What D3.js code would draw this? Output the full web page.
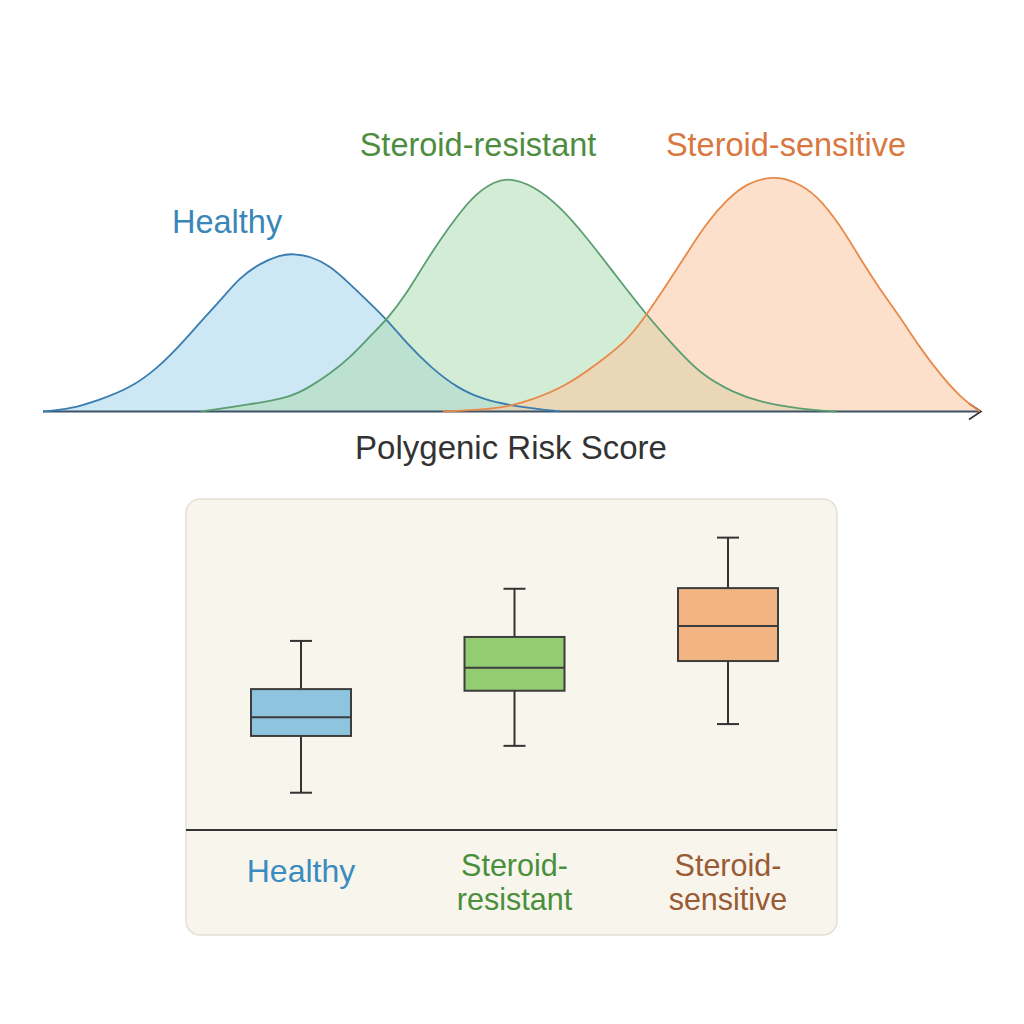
<!DOCTYPE html>
<html><head><meta charset="utf-8">
<script src="https://cdn.jsdelivr.net/npm/d3@7"></script>
<style>
body{margin:0;background:#fff}
svg{display:block}
text{font-family:"Liberation Sans", Arial, sans-serif}
</style></head>
<body><svg id="c" width="1024" height="1024"></svg>
<script>
// ---- data ----
const groups = ["Healthy", "Steroid-resistant", "Steroid-sensitive"];
const axisTitle = "Polygenic Risk Score";

const healthyScore   = [0, 2.9, 6.1, 9.3, 12.1, 14.6, 16.8, 18.9, 21.0, 23.2, 25.3, 26.7, 28.5, 30.6, 32.8, 34.9, 36.7, 38.8, 41.3, 44.2, 47.0, 50.6, 55.2];
const healthyDensity = [0, 0.01, 0.05, 0.10, 0.18, 0.28, 0.38, 0.47, 0.57, 0.63, 0.665, 0.67, 0.66, 0.62, 0.54, 0.46, 0.39, 0.29, 0.19, 0.10, 0.05, 0.02, 0];

const resistantScore   = [16.8, 22.1, 26.4, 28.5, 30.6, 32.8, 34.9, 36.7, 38.8, 40.6, 42.4, 44.2, 46.3, 48.4, 49.8, 52.3, 55.2, 58.0, 60.9, 64.4, 67.3, 70.1, 73.7, 76.5, 80.8, 84.7];
const resistantDensity = [0, 0.03, 0.06, 0.105, 0.16, 0.23, 0.32, 0.39, 0.50, 0.62, 0.73, 0.83, 0.93, 0.98, 0.99, 0.96, 0.87, 0.74, 0.59, 0.41, 0.28, 0.16, 0.08, 0.04, 0.01, 0];

const sensitiveScore   = [42.7, 48.8, 52.3, 55.9, 59.4, 62.3, 64.4, 66.6, 68.7, 70.8, 73.0, 75.1, 77.9, 80.1, 82.6, 85.1, 87.2, 89.3, 91.5, 93.6, 95.7, 97.9, 100];
const sensitiveDensity = [0, 0.01, 0.05, 0.11, 0.21, 0.30, 0.41, 0.54, 0.67, 0.80, 0.90, 0.97, 1.0, 0.98, 0.92, 0.79, 0.65, 0.52, 0.40, 0.27, 0.16, 0.06, 0];

const boxLow    = [11.3, 25.5, 32.1];
const boxQ1     = [28.5, 42.2, 51.2];
const boxMedian = [34.2, 49.2, 61.8];
const boxQ3     = [42.7, 58.5, 73.3];
const boxHigh   = [57.3, 73.1, 88.6];

// ---- styles ----
const strokeCol = ["#3a7db0", "#5a9e72", "#e8894a"];
const fillCol   = ["#a4d3ec", "#aedcb2", "#fbc6a0"];
const topLabelCol = ["#3a86b8", "#4e8d3f", "#d9773f"];
const boxFill = ["#8ec4de", "#93cc72", "#f2b482"];
const botLabelCol = ["#3a8cc0", "#4a8f3c", "#9a5a35"];

const svg = d3.select("#c");

// ---- density panel ----
const x = d3.scaleLinear([0, 100], [43, 980]);
const y = d3.scaleLinear([0, 1], [411.5, 176]);

const series = [
  healthyScore.map((s, i) => [s, healthyDensity[i]]),
  resistantScore.map((s, i) => [s, resistantDensity[i]]),
  sensitiveScore.map((s, i) => [s, sensitiveDensity[i]])
];

const curve = d3.curveBasis;
const area = d3.area().x(d => x(d[0])).y0(y(0)).y1(d => y(d[1])).curve(curve);
const line = d3.line().x(d => x(d[0])).y(d => y(d[1])).curve(curve);

const gTop = svg.append("g");
gTop.selectAll("path.area").data(series).join("path")
  .attr("class", "area").attr("d", area)
  .attr("fill", (d, i) => fillCol[i]).attr("fill-opacity", 0.55);

// axis line with arrow
gTop.append("line").attr("x1", x(0)).attr("x2", x(100) + 1).attr("y1", y(0)).attr("y2", y(0))
  .attr("stroke", "#3d5266").attr("stroke-width", 1.8);
gTop.append("path")
  .attr("d", `M${x(100) - 11},${y(0) - 8} L${x(100) + 1},${y(0)} L${x(100) - 11},${y(0) + 8}`)
  .attr("fill", "none").attr("stroke", "#333").attr("stroke-width", 1.6);

gTop.selectAll("path.curve").data(series).join("path")
  .attr("class", "curve").attr("d", line)
  .attr("fill", "none").attr("stroke", (d, i) => strokeCol[i]).attr("stroke-width", 1.8);

const topLabels = [
  {x: 172, y: 233, anchor: "start"},
  {x: 478, y: 156, anchor: "middle"},
  {x: 786, y: 156, anchor: "middle"}
];
gTop.selectAll("text.lab").data(groups).join("text")
  .attr("class", "lab")
  .attr("x", (d, i) => topLabels[i].x).attr("y", (d, i) => topLabels[i].y)
  .attr("text-anchor", (d, i) => topLabels[i].anchor)
  .attr("font-size", 32.5).attr("fill", (d, i) => topLabelCol[i]).text(d => d);

gTop.append("text").attr("x", 511).attr("y", 459).attr("text-anchor", "middle")
  .attr("font-size", 33).attr("fill", "#333").text(axisTitle);

// ---- box panel ----
const gBot = svg.append("g");
gBot.append("rect").attr("x", 186).attr("y", 499).attr("width", 651).attr("height", 436)
  .attr("rx", 14).attr("fill", "#f8f5ec").attr("stroke", "#e4e0d4").attr("stroke-width", 1.5);

const xb = d3.scalePoint(groups, [301, 728]);
const yb = d3.scaleLinear([0, 100], [830, 500]);
const bw = 100, cw = 22;

gBot.append("line").attr("x1", 186).attr("x2", 837).attr("y1", yb(0)).attr("y2", yb(0))
  .attr("stroke", "#333").attr("stroke-width", 2);

const boxes = gBot.selectAll("g.box").data(groups).join("g").attr("class", "box");
boxes.append("line").attr("x1", d => xb(d)).attr("x2", d => xb(d))
  .attr("y1", (d, i) => yb(boxLow[i])).attr("y2", (d, i) => yb(boxHigh[i]))
  .attr("stroke", "#333").attr("stroke-width", 2);
boxes.append("line").attr("x1", d => xb(d) - cw / 2).attr("x2", d => xb(d) + cw / 2)
  .attr("y1", (d, i) => yb(boxHigh[i])).attr("y2", (d, i) => yb(boxHigh[i]))
  .attr("stroke", "#333").attr("stroke-width", 2);
boxes.append("line").attr("x1", d => xb(d) - cw / 2).attr("x2", d => xb(d) + cw / 2)
  .attr("y1", (d, i) => yb(boxLow[i])).attr("y2", (d, i) => yb(boxLow[i]))
  .attr("stroke", "#333").attr("stroke-width", 2);
boxes.append("rect").attr("x", d => xb(d) - bw / 2).attr("width", bw)
  .attr("y", (d, i) => yb(boxQ3[i])).attr("height", (d, i) => yb(boxQ1[i]) - yb(boxQ3[i]))
  .attr("fill", (d, i) => boxFill[i]).attr("stroke", "#3d3d3d").attr("stroke-width", 2);
boxes.append("line").attr("x1", d => xb(d) - bw / 2).attr("x2", d => xb(d) + bw / 2)
  .attr("y1", (d, i) => yb(boxMedian[i])).attr("y2", (d, i) => yb(boxMedian[i]))
  .attr("stroke", "#3d3d3d").attr("stroke-width", 2);

const botLines = [["Healthy"], ["Steroid-", "resistant"], ["Steroid-", "sensitive"]];
const botY = [[882], [876, 910], [876, 910]];
const botSize = [32, 30.5, 30.5];
const labs = gBot.selectAll("text.cat").data(groups).join("text")
  .attr("class", "cat").attr("text-anchor", "middle")
  .attr("font-size", (d, i) => botSize[i])
  .attr("fill", (d, i) => botLabelCol[i]);
labs.each(function(d, i) {
  d3.select(this).selectAll("tspan").data(botLines[i]).join("tspan")
    .attr("x", xb(d)).attr("y", (t, j) => botY[i][j]).text(t => t);
});
</script>
</body></html>
